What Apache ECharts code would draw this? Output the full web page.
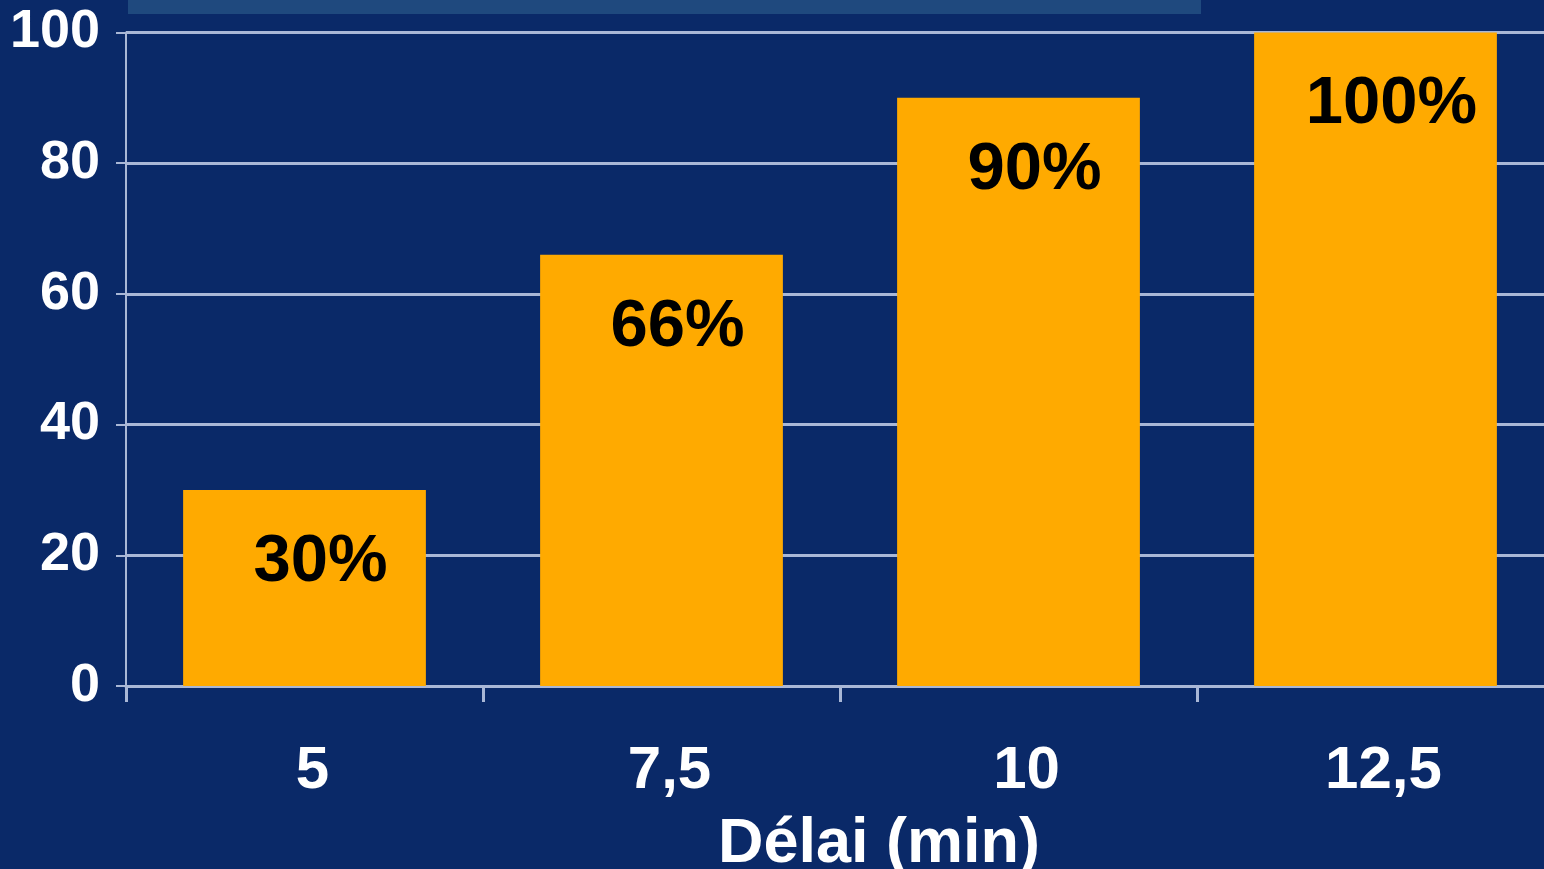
<!DOCTYPE html>
<html>
<head>
<meta charset="utf-8">
<style>
  html, body { margin: 0; padding: 0; background: #0a2968; }
  #chart { width: 1544px; height: 869px; }
</style>
<script src="https://cdn.jsdelivr.net/npm/echarts@6/dist/echarts.min.js"></script>
</head>
<body>
<div id="chart"></div>
<script>
// Délai (min) on the x axis, share reached (%) per bar
const categories = ['5', '7,5', '10', '12,5'];
const values = [30, 66, 90, 100];
const yTicks = { min: 0, max: 100, interval: 20 };
const xAxisName = 'Délai (min)';

const NAVY = '#0a2968';
const ORANGE = '#ffaa00';
const LINE = '#a9b7d6';
const FONT = '"Liberation Sans", Arial, sans-serif';

const chart = echarts.init(document.getElementById('chart'), null, { renderer: 'canvas' });

chart.setOption({
  backgroundColor: NAVY,
  animation: false,
  graphic: [
    {
      type: 'rect',
      shape: { x: 128, y: 0, width: 1073, height: 14 },
      style: { fill: '#1f497e' },
      z: 10
    }
  ],
  // the plot runs past the right edge of the canvas, so the last category is cut
  grid: { left: 126, right: -10, top: 32.5, height: 653.5, outerBoundsMode: 'none', containLabel: false },
  xAxis: {
    type: 'category',
    data: categories,
    name: xAxisName,
    nameLocation: 'middle',
    nameGap: 127,
    nameTextStyle: {
      color: '#ffffff', fontFamily: FONT, fontWeight: 'bold', fontSize: 63,
      padding: [0, 0, 0, 78]
    },
    axisLine: { show: true, lineStyle: { color: LINE, width: 3 } },
    axisTick: { show: true, length: 16, alignWithLabel: false, lineStyle: { color: LINE, width: 3 } },
    axisLabel: {
      color: '#ffffff', fontFamily: FONT, fontWeight: 'bold', fontSize: 60,
      margin: 55,
      padding: [0, 0, 0, 16]
    },
    splitLine: { show: false }
  },
  yAxis: {
    type: 'value',
    min: yTicks.min,
    max: yTicks.max,
    interval: yTicks.interval,
    axisLine: { show: true, lineStyle: { color: LINE, width: 2 } },
    axisTick: { show: true, length: 10, lineStyle: { color: LINE, width: 2 } },
    axisLabel: {
      color: '#ffffff', fontFamily: FONT, fontWeight: 'bold', fontSize: 54,
      margin: 26
    },
    splitLine: { show: true, lineStyle: { color: LINE, width: 3 } }
  },
  series: [
    {
      type: 'bar',
      data: values,
      barCategoryGap: '32%',
      itemStyle: { color: ORANGE },
      label: {
        show: true,
        position: 'insideTop',
        distance: 39,
        offset: [16, 0],
        formatter: p => p.value + '%',
        color: '#000000',
        fontFamily: FONT,
        fontWeight: 'bold',
        fontSize: 67
      },
      z: 3
    }
  ]
});
</script>
</body>
</html>
